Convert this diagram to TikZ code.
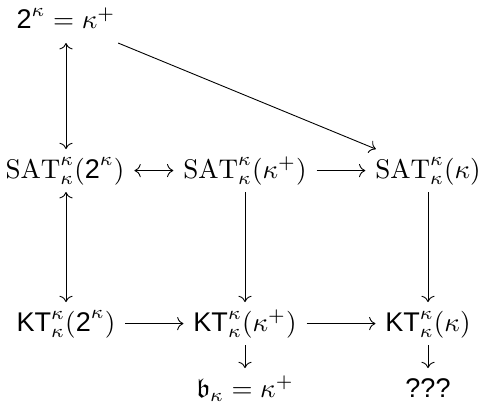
\documentclass[tikz,border=0pt]{standalone}
\usepackage{amsmath,amssymb}
\usepackage{fontspec}
\newfontfamily\arial{Liberation Sans}
\usetikzlibrary{arrows.meta}
\begin{document}
\begin{tikzpicture}[x=0.37pt,y=-0.37pt,
  cell/.style={anchor=base,inner xsep=3.5pt,inner ysep=2.5pt,text height=8pt,text depth=2.5pt},
  arr/.style={-{Computer Modern Rightarrow},line width=0.33pt},
  darr/.style={{Computer Modern Rightarrow}-{Computer Modern Rightarrow},line width=0.33pt}]
\useasboundingbox (0,0) rectangle (481,410);
\node[cell] (top) at (66,29) {$\text{\arial 2}^\kappa=\kappa^+$};
\node[cell] (s1) at (65,178) {$\mathrm{SAT}^\kappa_\kappa(\text{\arial 2}^\kappa)$};
\node[cell] (s2) at (245,178) {$\mathrm{SAT}^\kappa_\kappa(\kappa^+)$};
\node[cell] (s3) at (428,178) {$\mathrm{SAT}^\kappa_\kappa(\kappa)$};
\node[cell] (k1) at (66,331) {$\text{\arial KT}^\kappa_\kappa(\text{\arial 2}^\kappa)$};
\node[cell] (k2) at (245,331) {$\text{\arial KT}^\kappa_\kappa(\kappa^+)$};
\node[cell] (k3) at (428,331) {$\text{\arial KT}^\kappa_\kappa(\kappa)$};
\node[cell] (b) at (245,397) {$\mathfrak{b}_\kappa=\kappa^+$};
\node[cell] (q) at (428,397) {\arial ???};
\draw[darr] (top) -- (top |- s1.north);
\draw[arr] (top) -- (s3);
\draw[darr] (s1) -- (s2);
\draw[arr] (s2) -- (s3);
\draw[darr] (s1.south -| top) -- (top |- k1.north);
\draw[arr] (s2) -- (k2);
\draw[arr] (s3) -- (k3);
\draw[arr] (k1) -- (k2);
\draw[arr] (k2) -- (k3);
\draw[arr] (k2) -- (b);
\draw[arr] (k3) -- (q);
\end{tikzpicture}
\end{document}
